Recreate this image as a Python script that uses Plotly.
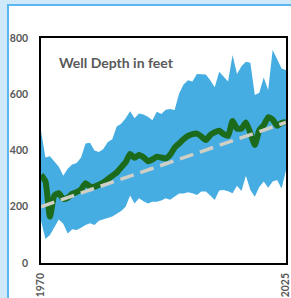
import plotly.graph_objects as go

years = list(range(1970, 2026))

upper = [470, 375, 380, 360, 342, 310, 335, 350, 356, 375,
         425, 428, 400, 395, 405, 430, 440, 485, 495, 515,
         540, 515, 532, 528, 520, 508, 538, 530, 545, 548,
         544, 603, 635, 650, 645, 672, 672, 670, 650, 625,
         680, 664, 645, 740, 672, 700, 716, 712, 597, 605,
         660, 615, 757, 725, 692, 686]

lower = [150, 85, 100, 125, 155, 140, 105, 120, 117, 125,
         135, 141, 135, 150, 155, 158, 165, 175, 185, 200,
         240, 212, 230, 220, 212, 218, 218, 222, 230, 225,
         235, 247, 247, 252, 248, 242, 254, 254, 240, 224,
         258, 260, 255, 248, 275, 256, 310, 260, 236, 270,
         290, 268, 290, 295, 265, 330]

mean = [313, 290, 165, 240, 248, 228, 232, 246, 252, 262,
        284, 272, 271, 278, 286, 298, 310, 322, 340, 358,
        388, 374, 384, 376, 362, 368, 378, 375, 372, 385,
        410, 425, 440, 452, 458, 460, 450, 437, 455, 465,
        470, 458, 452, 505, 478, 478, 500, 462, 420, 472,
        490, 518, 510, 488, 498, 502]

trend_years = [1970, 2025]
trend_vals = [200, 500]

y_ticks = [0, 200, 400, 600, 800]
x_ticks = [1970, 2025]
title_text = "Well Depth in feet"

BAND = "#46ade2"
GREEN = "#1c6b1c"
TREND = "#cfcfc6"
TXT = "#595959"

fig = go.Figure()
fig.add_trace(go.Scatter(x=years, y=lower, mode="lines", line=dict(width=0, color=BAND),
                         hoverinfo="skip", showlegend=False))
fig.add_trace(go.Scatter(x=years, y=upper, mode="lines", line=dict(width=0, color=BAND),
                         fill="tonexty", fillcolor=BAND, showlegend=False))
fig.add_trace(go.Scatter(x=years, y=mean, mode="lines",
                         line=dict(width=6, color=GREEN, shape="spline", smoothing=0.5),
                         showlegend=False))
fig.add_trace(go.Scatter(x=trend_years, y=trend_vals, mode="lines",
                         line=dict(width=3.5, color=TREND, dash="14px,7px"),
                         showlegend=False))

fig.add_annotation(xref="paper", yref="paper", x=0.065, y=0.893, xanchor="left", yanchor="middle",
                   text="<b>" + title_text + "</b>", showarrow=False,
                   font=dict(family="Lato", size=14, color=TXT))

# outer white panel with blue border
fig.add_shape(type="rect", xref="paper", yref="paper",
              x0=-0.1347, x1=1.2, y0=-0.4, y1=1.1467,
              fillcolor="white", line=dict(color="#5cb6ef", width=2), layer="below")

fig.update_layout(
    width=291, height=298,
    margin=dict(l=41, r=5, t=38, b=35),
    paper_bgcolor="#cfe9fb",
    plot_bgcolor="white",
    font=dict(family="Lato", color=TXT),
)
fig.update_xaxes(range=[1970, 2025], tickvals=x_ticks, ticktext=["<b>%d</b>" % v for v in x_ticks],
                 tickangle=-90, showgrid=False, zeroline=False, automargin=False,
                 ticklabeloverflow="allow",
                 showline=True, mirror=True, linecolor="black", linewidth=1.5,
                 ticks="outside", ticklen=4, tickcolor="rgba(0,0,0,0)",
                 tickfont=dict(size=10.5, color=TXT))
fig.update_yaxes(range=[0, 800], tickvals=y_ticks, ticktext=["<b>%d</b>" % v for v in y_ticks],
                 showgrid=False, zeroline=False, automargin=False,
                 ticklabeloverflow="allow",
                 showline=True, mirror=True, linecolor="black", linewidth=1.5,
                 ticks="outside", ticklen=9, tickcolor="rgba(0,0,0,0)",
                 tickfont=dict(size=10.5, color=TXT))

fig.write_html("out.html", config={"displayModeBar": False},
               post_script="document.body.style.margin='0';document.body.style.overflow='hidden';")
